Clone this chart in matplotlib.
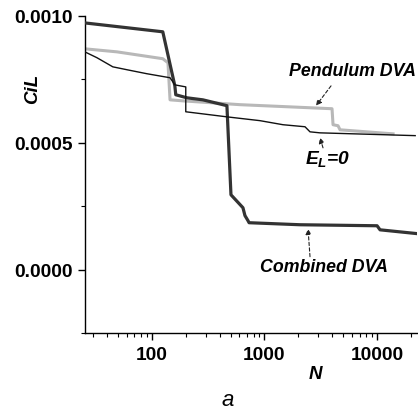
import matplotlib.pyplot as plt
import numpy as np

plt.rcParams['font.family'] = ['Liberation Sans', 'DejaVu Sans']
plt.rcParams['mathtext.fontset'] = 'custom'
plt.rcParams['mathtext.it'] = 'Liberation Sans:bold:italic'
plt.rcParams['mathtext.rm'] = 'Liberation Sans:bold'

# Combined DVA (thick, dark)
n_comb = [25.4, 125, 160, 163, 205, 284, 464, 504, 644, 671, 714, 730, 2070, 10000, 10630, 22700]
cil_comb = [0.000972, 0.000937, 0.000724, 0.000689, 0.000677, 0.000669, 0.000646, 0.000295,
            0.000244, 0.000213, 0.000193, 0.000185, 0.000177, 0.000173, 0.000157, 0.000142]

# Pendulum DVA (thick, light grey)
n_pend = [25.4, 49, 125, 139, 145, 189, 605, 3980, 4064, 4500, 4690, 13870]
cil_pend = [0.000870, 0.000858, 0.000831, 0.000815, 0.000669, 0.000665, 0.000650, 0.000634,
            0.000571, 0.000567, 0.000551, 0.000535]

# E_L = 0 (thin, black)
n_el = [25.4, 32.5, 45, 61, 90, 145, 160, 200, 200, 464, 912, 1460, 2290, 2537, 3110, 21800]
cil_el = [0.000858, 0.000835, 0.000799, 0.000787, 0.000772, 0.000756, 0.000728, 0.000720,
          0.000622, 0.000602, 0.000587, 0.000571, 0.000563, 0.000543, 0.000539, 0.000528]

FS = 12.8

fig = plt.figure(figsize=(4.18, 4.10), dpi=100)
ax = fig.add_axes([0.203, 0.185, 0.795, 0.774])

ax.plot(n_pend, cil_pend, color='#b8b8b8', lw=2.2, zorder=2)
ax.plot(n_comb, cil_comb, color='#333333', lw=2.3, zorder=3)
ax.plot(n_el, cil_el, color='#111111', lw=1.0, zorder=4)

ax.set_xscale('log')
ax.set_xlim(25.4, 22700)
ax.set_ylim(-0.00025, 0.0010)
ax.set_yticks([0.0, 0.0005, 0.0010])
ax.set_yticks([-0.00025, 0.00025, 0.00075], minor=True)
ax.set_yticklabels(['0.0000', '0.0005', '0.0010'])
ax.set_xticks([100, 1000, 10000])
ax.set_xticklabels(['100', '1000', '10000'])

for s in ['top', 'right']:
    ax.spines[s].set_visible(False)
for s in ['left', 'bottom']:
    ax.spines[s].set_linewidth(1.0)

ax.tick_params(which='major', direction='out', length=5, width=1, pad=4,
               labelsize=13.8)
ax.tick_params(which='minor', direction='out', length=3, width=0.8)
for lab in ax.get_xticklabels() + ax.get_yticklabels():
    lab.set_fontweight('bold')

arrow = dict(arrowstyle='-|>', linestyle=(0, (3, 2)), color='#222222', lw=0.8,
             mutation_scale=8, shrinkA=0, shrinkB=0)

ax.text(6000, 0.000784, 'Pendulum DVA', fontsize=FS, fontweight='bold',
        fontstyle='italic', ha='center', va='center')
ax.annotate('', xy=(2870, 0.000646), xytext=(3900, 0.000724), arrowprops=arrow)

ax.text(3660, 0.000441, r'$E_L$=0', fontsize=FS + 1,
        fontweight='bold', fontstyle='italic', ha='center', va='center')
ax.annotate('', xy=(3110, 0.000520), xytext=(3310, 0.000480), arrowprops=arrow)

ax.text(3380, 0.0000118, 'Combined DVA', fontsize=FS, fontweight='bold',
        fontstyle='italic', ha='center', va='center')
ax.annotate('', xy=(2437, 0.000161), xytext=(2537, 0.0000512), arrowprops=arrow)

fig.text(33 / 418, 1 - 89 / 410, 'CiL', fontsize=13.5, fontweight='bold',
         fontstyle='italic', rotation=90, ha='center', va='center')
fig.text(315 / 418, 1 - 375 / 410, 'N', fontsize=13.5, fontweight='bold',
         fontstyle='italic', ha='center', va='center')
fig.text(228 / 418, 1 - 401 / 410, 'a', fontsize=16, fontstyle='italic',
         ha='center', va='center')

plt.savefig('out.png', dpi=100)
